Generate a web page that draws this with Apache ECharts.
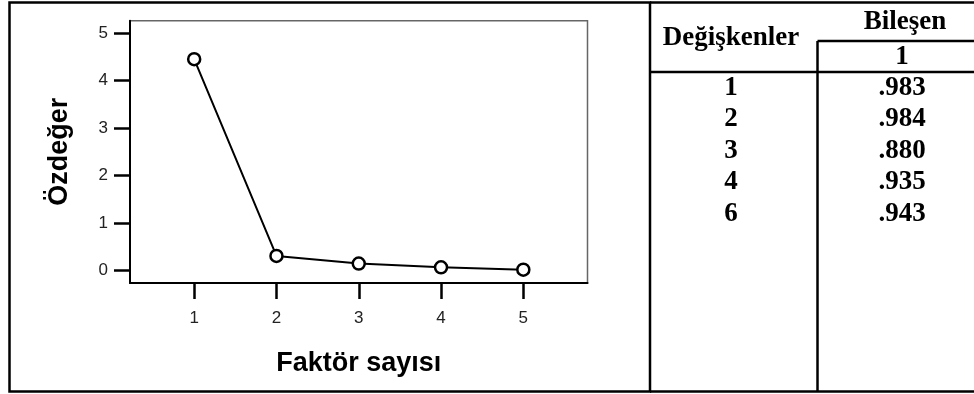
<!DOCTYPE html>
<html>
<head>
<meta charset="utf-8">
<script src="https://cdn.jsdelivr.net/npm/echarts@6/dist/echarts.min.js"></script>
<style>
  html, body { margin: 0; padding: 0; background: #fff; }
  #chart { width: 974px; height: 394px; }
</style>
</head>
<body>
<div id="chart"></div>
<script>
// Scree plot: eigenvalue per factor number
const factors = [1, 2, 3, 4, 5];
const eigenvalues = [4.45, 0.31, 0.15, 0.07, 0.02];
const yTicks = [0, 1, 2, 3, 4, 5];

// Component matrix table
const headVariables = 'Değişkenler';
const headComponent = 'Bileşen';
const componentNumber = '1';
const variables = ['1', '2', '3', '4', '6'];
const loadings = ['.983', '.984', '.880', '.935', '.943'];

const chart = echarts.init(document.getElementById('chart'), null, { renderer: 'canvas' });

const serif = '"Liberation Serif", "Times New Roman", serif';
const sans = '"Liberation Sans", Arial, sans-serif';

// table geometry
const tLeft = 650, tMid = 817.5, tRight = 974;
const tTop = 2.5, tBottom = 391.5;
const rowTop = 88, rowStep = 31.5;

const graphics = [];
// outer frame around the plot panel
graphics.push({ type: 'rect', shape: { x: 9.5, y: tTop, width: tLeft - 9.5, height: tBottom - tTop },
  style: { fill: null, stroke: '#000', lineWidth: 2.5 }, z: 10 });
// table rules
const L = (x1, y1, x2, y2, w) => ({ type: 'line', shape: { x1, y1, x2, y2 },
  style: { stroke: '#000', lineWidth: w }, z: 10 });
graphics.push(L(tLeft, tTop, tRight, tTop, 2.5));
graphics.push(L(tLeft, tBottom, tRight, tBottom, 2.5));
graphics.push(L(tMid, 41, tRight, 41, 2.5));
graphics.push(L(tLeft, 72, tRight, 72, 2.5));
graphics.push(L(tMid, 41, tMid, tBottom, 2.5));
// table texts
const T = (text, x, y) => ({ type: 'text', x, y, z: 10,
  style: { text, font: 'bold 27px ' + serif, fill: '#000', align: 'center', verticalAlign: 'middle' } });
const colA = 731, colB = 902;
graphics.push(T(headVariables, colA, 38));
graphics.push(T(headComponent, 905, 22));
graphics.push(T(componentNumber, colB, 57));
variables.forEach((v, i) => {
  graphics.push(T(v, colA, rowTop + i * rowStep));
  graphics.push(T(loadings[i], colB, rowTop + i * rowStep));
});

chart.setOption({
  animation: false,
  backgroundColor: '#fff',
  grid: { left: 130, top: 20.7, width: 457.5, height: 262.3, show: true,
    borderColor: '#666', borderWidth: 1.5, backgroundColor: 'transparent' },
  xAxis: {
    type: 'value', min: 0.22, max: 5.78, interval: 1,
    name: 'Faktör sayısı', nameLocation: 'middle', nameGap: 67,
    nameTextStyle: { fontFamily: sans, fontWeight: 'bold', fontSize: 27, color: '#000' },
    axisLine: { show: true, onZero: false, lineStyle: { color: '#000', width: 2 } },
    axisTick: { show: true, length: 16, lineStyle: { color: '#000', width: 2.5 },
      customValues: factors },
    axisLabel: { margin: 27, fontFamily: sans, fontSize: 17, color: '#222',
      customValues: factors, formatter: v => String(v) },
    splitLine: { show: false }
  },
  yAxis: {
    type: 'value', min: -0.26, max: 5.26,
    name: 'Özdeğer', nameLocation: 'middle', nameGap: 57, nameRotate: 90,
    nameTextStyle: { fontFamily: sans, fontWeight: 'bold', fontSize: 27, color: '#000' },
    axisLine: { show: true, onZero: false, lineStyle: { color: '#000', width: 2 } },
    axisTick: { show: true, length: 16, lineStyle: { color: '#000', width: 2.5 },
      customValues: yTicks },
    axisLabel: { margin: 22, fontFamily: sans, fontSize: 17, color: '#222',
      customValues: yTicks, formatter: v => String(v) },
    splitLine: { show: false }
  },
  series: [{
    type: 'line',
    data: factors.map((f, i) => [f, eigenvalues[i]]),
    symbol: 'circle', symbolSize: 12, showAllSymbol: true,
    lineStyle: { color: '#000', width: 2 },
    itemStyle: { color: '#fff', borderColor: '#000', borderWidth: 2.5 },
    z: 5
  }],
  graphic: graphics
});
</script>
</body>
</html>
